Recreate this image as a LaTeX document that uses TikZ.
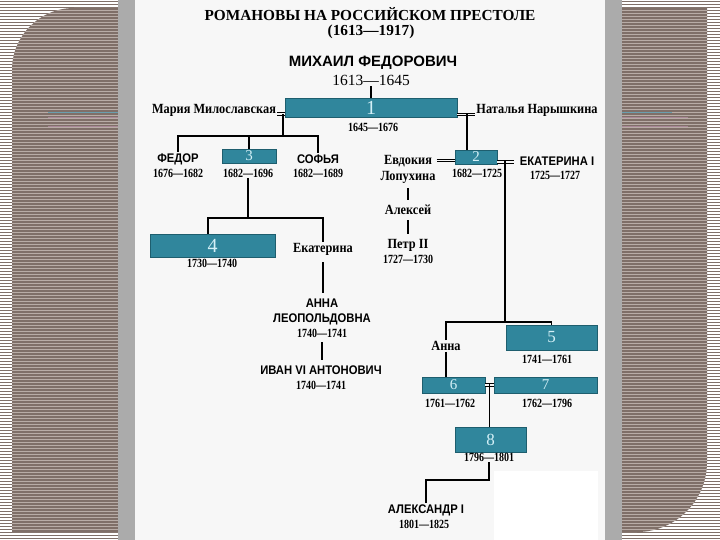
\documentclass[tikz,border=0pt]{standalone}
\usepackage{fontspec}
\setmainfont{Liberation Serif}
\newfontfamily\capsfont{Liberation Sans}
\newfontfamily\capsnarrow[FakeStretch=0.9]{Liberation Sans}
\newfontfamily\namefont[FakeStretch=0.88]{Liberation Serif}
\newfontfamily\datefont[FakeStretch=0.8]{Liberation Serif}
\usepackage{tikz}
\usetikzlibrary{calc}
\definecolor{stripebrown}{HTML}{7F6F68}
\definecolor{stripelight}{HTML}{B8ACA6}
\definecolor{bandgray}{HTML}{ABABAB}
\definecolor{panelbg}{HTML}{F7F7F7}
\definecolor{boxteal}{HTML}{30869C}
\definecolor{boxedge}{HTML}{1E5E6E}
\definecolor{boxnum}{HTML}{D4F0F7}
\definecolor{accentteal}{HTML}{6A9FAE}
\definecolor{accentmauve}{HTML}{A88796}
\tikzset{
    rule line/.style={line width=1.3pt, draw=black},
    gap line/.style={rule line, shorten <=4pt, shorten >=4pt},
    trunk line/.style={line width=1.8pt, draw=black},
    wed line/.style={draw=black, double=panelbg, double distance=1.8pt,
      line width=0.8pt},
    reign box/.style={draw=boxedge, line width=0.8pt, fill=boxteal,
      text=boxnum, inner sep=0pt},
    title label/.style={font=\bfseries\fontsize{15.3}{17}\selectfont,
      inner sep=0pt},
    caps label/.style={font=\capsnarrow\bfseries\fontsize{12.5}{15}\selectfont,
      align=center, inner sep=1pt},
    name label/.style={font=\namefont\bfseries\fontsize{14}{16}\selectfont,
      align=center, inner sep=1pt},
    date label/.style={font=\datefont\bfseries\fontsize{12.5}{13}\selectfont,
      inner sep=1pt}
}
\newcommand{\numsz}[1]{\fontsize{#1}{#1}\selectfont}

\begin{document}
\begin{tikzpicture}[x=1pt,y=-1pt]
  \useasboundingbox (0,0) rectangle (720,540);

  % backdrop
  \fill[white] (0,0) rectangle (720,540);
  \begin{scope}
    \clip (0,0) rectangle (118,540) (622,0) rectangle (720,540);
    \foreach \y in {1.5,4.5,...,540}
      \draw[stripebrown, line width=1.4pt] (0,\y) -- (720,\y);
    \fill[stripebrown] (12,532) -- (12,70)
      arc[start angle=180, end angle=270, radius=62] -- (707,8) -- (707,462)
      arc[start angle=0, end angle=90, radius=70] -- cycle;
    \clip (12,532) -- (12,70)
      arc[start angle=180, end angle=270, radius=62] -- (707,8) -- (707,462)
      arc[start angle=0, end angle=90, radius=70] -- cycle;
    \foreach \y in {1.5,4.5,...,540}
      \draw[stripelight, line width=0.8pt] (0,\y) -- (720,\y);
  \end{scope}
  \draw[accentteal, line width=1pt] (48,113) -- (118,113) (622,113) -- (672,113);
  \draw[accentmauve, line width=0.9pt] (48,117.5) -- (118,117.5)
    (622,117.5) -- (688,117.5) (48,126.5) -- (118,126.5) (622,126.5) -- (688,126.5);
  \fill[bandgray] (118,0) rectangle (135,540);
  \fill[bandgray] (605,0) rectangle (622,540);
  \fill[panelbg] (135,0) rectangle (605,540);
  \fill[white] (494,471) rectangle (598,540);

  % head
  \node[title label] (title) at (370,14) {РОМАНОВЫ НА РОССИЙСКОМ ПРЕСТОЛЕ};
  \node[title label] (title-d) at (371,32) {(1613—1917)};
  \node[font=\capsfont\bfseries\fontsize{15}{16}\selectfont] (mikhail)
    at (373,63) {МИХАИЛ ФЕДОРОВИЧ};
  \node[font=\fontsize{15.5}{16}\selectfont, inner sep=1pt] (mikhail-d)
    at (371,80) {1613—1645};

  \node[reign box, minimum width=172, minimum height=19, font=\numsz{20}] (b1)
    at (371,107.5) {1};
  \node[date label] (b1-d) at (373,127) {1645—1676};
  \node[name label] (maria) at (214,110) {Мария Милославская};
  \node[name label] (natalia) at (537,110) {Наталья Нарышкина};
  \coordinate (mm) at (283,114);
  \coordinate (nn) at (467,114.5);
  \draw[rule line] (mikhail-d) -- (b1);
  \draw[wed line] (maria.east |- mm) -- (b1.west |- mm);
  \draw[wed line] (b1.east |- nn) -- (natalia.west |- nn);

  % Miloslavskie
  \coordinate (lj) at (283,136);
  \node[caps label] (fedor) at (178,159) {ФЕДОР};
  \node[date label] (fedor-d) at (178,173) {1676—1682};
  \node[reign box, minimum width=54, minimum height=14, font=\numsz{15}] (b3)
    at (249,156) {3};
  \node[date label] (b3-d) at (248,173) {1682—1696};
  \node[caps label] (sofya) at (318,159) {СОФЬЯ};
  \node[date label] (sofya-d) at (318,173) {1682—1689};
  \draw[rule line] (mm) -- (lj);
  \draw[rule line] (fedor) |- (lj) -| (sofya);
  \draw[rule line] (b3) -- (b3 |- lj);

  \coordinate (mj) at (248,218);
  \node[reign box, minimum width=125, minimum height=23, font=\numsz{20}] (b4)
    at (212.5,245.5) {4};
  \node[date label] (b4-d) at (212,263) {1730—1740};
  \node[name label] (ekat) at (323,249) {Екатерина};
  \draw[rule line] (b3-d) -- (mj);
  \draw[rule line] ([xshift=-4.5pt]b4.north) |- (mj) -| (ekat);

  \node[caps label] (annaleo) at (322,311.5) {АННА\\ЛЕОПОЛЬДОВНА};
  \node[date label] (annaleo-d) at (322,333) {1740—1741};
  \node[caps label] (ivan) at (321,370) {ИВАН VI АНТОНОВИЧ};
  \node[date label] (ivan-d) at (321,385) {1740—1741};
  \draw[gap line, shorten <=6pt] (ekat) -- (ekat |- annaleo.north);
  \draw[gap line] (annaleo-d) -- (annaleo-d |- ivan.north);

  % Naryshkiny
  \node[reign box, minimum width=42, minimum height=14, font=\numsz{15}] (b2)
    at (476,157) {2};
  \node[date label] (b2-d) at (477,173) {1682—1725};
  \node[name label] (evdok) at (408,169) {Евдокия\\Лопухина};
  \node[caps label] (ekat1) at (557,161) {ЕКАТЕРИНА I};
  \node[date label] (ekat1-d) at (555,175) {1725—1727};
  \coordinate (ew) at (444,160.5);
  \coordinate (ej) at (505,162);
  \coordinate (rj) at (505,322);
  \draw[rule line] (nn) -- (nn |- b2.north);
  \draw[wed line] (evdok.east |- ew) -- (b2.west |- ew);
  \draw[wed line, shorten >=5pt] (b2.east |- ej) -- (ekat1.west |- ej);
  \draw[trunk line] ([yshift=1pt]ej) -- (rj);

  \node[name label] (aleksei) at (408,210) {Алексей};
  \node[name label] (petr) at (408,245) {Петр II};
  \node[date label] (petr-d) at (408,259) {1727—1730};
  \draw[gap line] (evdok) -- (aleksei);
  \draw[gap line] (aleksei) -- (petr);

  % after Petr
  \node[name label] (anna) at (446,346) {Анна};
  \node[reign box, minimum width=91, minimum height=25, font=\numsz{17}] (b5)
    at (551.5,337.5) {5};
  \node[date label] (b5-d) at (547,359) {1741—1761};
  \draw[rule line] (anna) |- (rj) -| (b5);

  \node[reign box, minimum width=63, minimum height=16, font=\numsz{15}] (b6)
    at (453.5,385) {6};
  \node[reign box, minimum width=103, minimum height=16, font=\numsz{15}] (b7)
    at (545.5,385) {7};
  \node[date label] (b6-d) at (450,403) {1761—1762};
  \node[date label] (b7-d) at (547,403) {1762—1796};
  \coordinate (pj) at (489.5,385);
  \draw[rule line] (anna) -- (anna |- b6.north);
  \draw[wed line] (b6.east |- pj) -- (b7.west |- pj);

  \node[reign box, minimum width=71, minimum height=25, font=\numsz{17}] (b8)
    at (490.5,439.5) {8};
  \node[date label] (b8-d) at (489,457) {1796—1801};
  \draw[rule line] ([yshift=1.5pt]pj) -- (pj |- b8.north);

  \coordinate (aj) at (489,480);
  \node[caps label] (alex) at (426,510) {АЛЕКСАНДР I};
  \node[date label] (alex-d) at (424,524) {1801—1825};
  \draw[rule line] (b8-d) -- (aj) -| (alex);

\end{tikzpicture}
\end{document}
